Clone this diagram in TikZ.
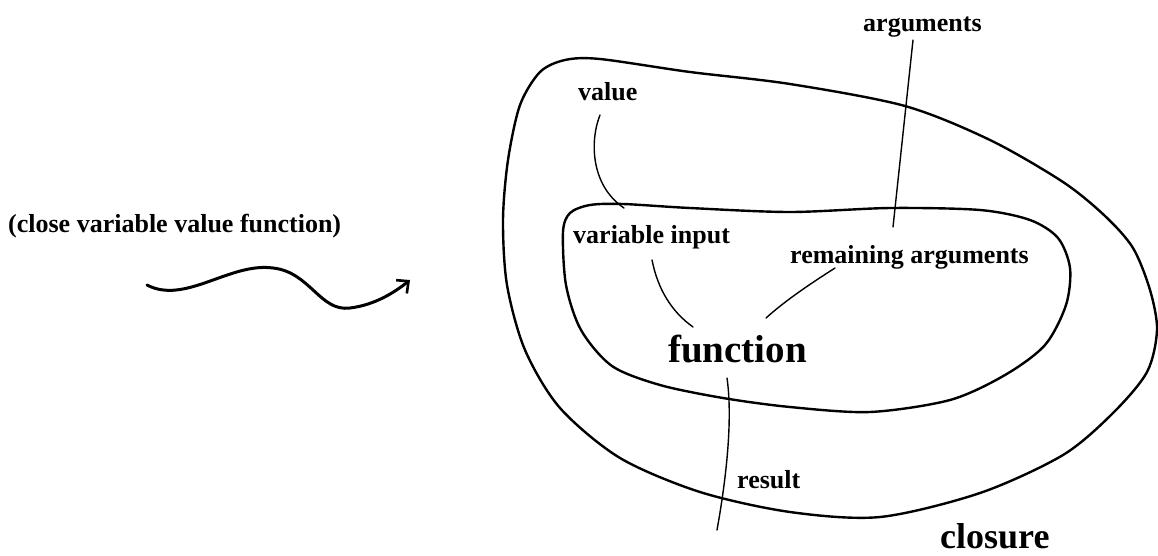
\documentclass[tikz,border=0pt]{standalone}
\usepackage{fontspec}
\setmainfont{Liberation Serif}
\usetikzlibrary{arrows.meta}
\begin{document}
\begin{tikzpicture}[x=1pt,y=-1pt,
  lbl/.style={font=\bfseries\fontsize{26}{30}\selectfont, inner sep=0pt, anchor=base west},
  bigfunc/.style={font=\bfseries\fontsize{39}{44}\selectfont, inner sep=0pt, anchor=base west},
  bigclos/.style={font=\bfseries\fontsize{36}{40}\selectfont, inner sep=0pt, anchor=base west},
  region/.style={line width=2.4pt, line join=round},
  lead/.style={line width=1.4pt, line cap=round},
  squiggle/.style={line width=3pt, line cap=round,
    -{Straight Barb[length=9pt,width=17pt,line width=2.6pt]}}]
\useasboundingbox (0,0) rectangle (1158,555);

% closure boundary
\draw[region] plot[smooth cycle, tension=0.5] coordinates {
  (503,220) (508,160) (520,105) (540,72) (565,60) (600,59) (690,72)
  (790,84) (905,106) (990,140) (1063,182) (1105,216) (1133,248)
  (1150,290) (1157,330) (1147,372) (1113,413) (1063,455) (980,493)
  (880,517) (790,512) (700,492) (620,458) (560,408) (525,350) (507,285)};

% function boundary
\draw[region] plot[smooth cycle, tension=0.5] coordinates {
  (563,232) (570,213) (590,205) (623,204) (690,208) (790,212) (890,208)
  (980,210) (1030,220) (1058,238) (1070,268) (1066,305) (1045,345)
  (1005,375) (950,400) (870,412) (790,407) (723,398) (660,385)
  (612,366) (581,330) (566,285)};

% labels
\node[lbl] (args) at (863,31) {arguments};
\node[lbl] (value) at (578,100) {value};
\node[lbl] (varin) at (573,243) {variable input};
\node[lbl] (remargs) at (790,263) {remaining arguments};
\node[lbl] (result) at (737,488) {result};
\node[lbl] (expr) at (8,232) {(close variable value function)};
\node[bigfunc] (func) at (668,362) {function};
\node[bigclos] (clos) at (940,548) {closure};

% leader line end points
\coordinate (argsA) at (913,40);   \coordinate (argsB) at (893,227);
\coordinate (valA) at (600,115);   \coordinate (valB) at (624,208);
\coordinate (varA) at (652,260);   \coordinate (varB) at (693,327);
\coordinate (remA) at (835,268);   \coordinate (remB) at (766,318);
\coordinate (resA) at (727,378);   \coordinate (resB) at (717,530);
\coordinate (waveA) at (147,285);  \coordinate (waveB) at (410,280);

% leader lines
\draw[lead] (argsA) -- (argsB);
\draw[lead] (valA) .. controls (590,140) and (590,185) .. (valB);
\draw[lead] (varA) .. controls (658,290) and (672,312) .. (varB);
\draw[lead] (remA) .. controls (810,284) and (786,300) .. (remB);
\draw[lead] (resA) .. controls (733,420) and (726,480) .. (resB);

% transformation arrow
\draw[squiggle] (waveA) .. controls (185,305) and (230,262) .. (273,268)
  .. controls (310,272) and (320,312) .. (350,308)
  .. controls (375,305) and (395,292) .. (waveB);
\end{tikzpicture}
\end{document}
